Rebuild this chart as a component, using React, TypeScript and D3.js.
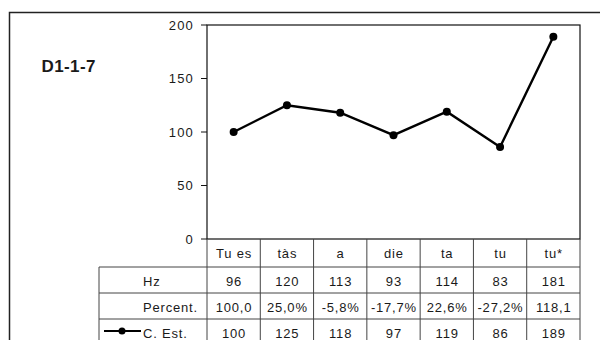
import * as d3 from "d3";

const categories = ["Tu es", "tàs", "a", "die", "ta", "tu", "tu*"];
const hzValues = ["96", "120", "113", "93", "114", "83", "181"];
const percentValues = ["100,0", "25,0%", "-5,8%", "-17,7%", "22,6%", "-27,2%", "118,1"];
const estValues = [100, 125, 118, 97, 119, 86, 189];
const yTicks = [0, 50, 100, 150, 200];

const W = 600;
const H = 340;
const plot = { left: 207, right: 580, top: 25, bottom: 239 };
const rowH = 26;
const tableLeft = 99;
const font = "'Liberation Sans', Arial, sans-serif";
const fs = 13;
const ls = 0.8;

const App = () => {
  const x = d3
    .scaleBand<string>()
    .domain(categories)
    .range([plot.left, plot.right])
    .paddingInner(0)
    .paddingOuter(0);
  const y = d3.scaleLinear().domain([0, 200]).range([plot.bottom, plot.top]);
  const cx = (c: string) => (x(c) ?? 0) + x.bandwidth() / 2;

  const line = d3
    .line<number>()
    .x((_, i) => cx(categories[i]))
    .y((d) => y(d));

  const rows = [
    { name: "Hz", vals: hzValues },
    { name: "Percent.", vals: percentValues },
    { name: "C. Est.", vals: estValues.map(String) },
  ];
  const headTop = plot.bottom;
  const bodyTop = 267;

  return (
    <svg
      width={W}
      height={H}
      style={{ position: "absolute", left: 0, top: 0, background: "#fff" }}
      fontFamily={font}
    >
      {/* chart frame */}
      <rect x={9.5} y={12.5} width={620} height={360} fill="none" stroke="#222" strokeWidth={1.5} />

      <text x={41.5} y={72} fontSize={17} fontWeight="bold" fill="#1a1a1a" letterSpacing={0.4}>
        D1-1-7
      </text>

      {/* plot area */}
      <rect
        x={plot.left}
        y={plot.top}
        width={plot.right - plot.left}
        height={plot.bottom - plot.top}
        fill="none"
        stroke="#111"
        strokeWidth={1.2}
      />
      {yTicks.map((t) => (
        <g key={t}>
          <line x1={plot.left - 6} x2={plot.left} y1={y(t)} y2={y(t)} stroke="#111" />
          <text
            x={plot.left - 13}
            y={y(t)}
            dy="0.35em"
            textAnchor="end"
            fontSize={fs}
            letterSpacing={1.2}
            fill="#1a1a1a"
          >
            {t}
          </text>
        </g>
      ))}

      {/* data table */}
      <g stroke="#444" strokeWidth={1}>
        {categories.map((c) => (
          <line
            key={c}
            x1={(x(c) ?? 0) + x.bandwidth()}
            x2={(x(c) ?? 0) + x.bandwidth()}
            y1={headTop}
            y2={H}
          />
        ))}
        <line x1={plot.left} x2={plot.left} y1={headTop} y2={H} />
        <line x1={tableLeft} x2={tableLeft} y1={bodyTop} y2={H} />
        {rows.map((_, i) => (
          <line key={i} x1={tableLeft} x2={plot.right} y1={bodyTop + i * rowH} y2={bodyTop + i * rowH} />
        ))}
      </g>
      {categories.map((c) => (
        <text
          key={c}
          x={cx(c) + ls / 2}
          y={headTop + 14}
          dy="0.35em"
          textAnchor="middle"
          fontSize={fs}
          letterSpacing={ls}
          fill="#1a1a1a"
        >
          {c}
        </text>
      ))}
      {rows.map((r, ri) => (
        <g key={r.name}>
          <text
            x={143}
            y={bodyTop + ri * rowH + 14}
            dy="0.35em"
            fontSize={fs}
            letterSpacing={ls}
            fill="#1a1a1a"
          >
            {r.name}
          </text>
          {r.vals.map((v, i) => (
            <text
              key={i}
              x={cx(categories[i]) + ls / 2}
              y={bodyTop + ri * rowH + 14}
              dy="0.35em"
              textAnchor="middle"
              fontSize={fs}
              letterSpacing={ls}
              fill="#1a1a1a"
            >
              {v}
            </text>
          ))}
        </g>
      ))}
      {/* legend key */}
      <line x1={104} x2={141} y1={331} y2={331} stroke="#000" strokeWidth={2} />
      <circle cx={122} cy={331} r={3.5} fill="#000" />

      {/* series */}
      <path d={line(estValues) ?? ""} fill="none" stroke="#000" strokeWidth={2.4} />
      {estValues.map((v, i) => (
        <circle key={i} cx={cx(categories[i])} cy={y(v)} r={4} fill="#000" />
      ))}
    </svg>
  );
};

export default App;
